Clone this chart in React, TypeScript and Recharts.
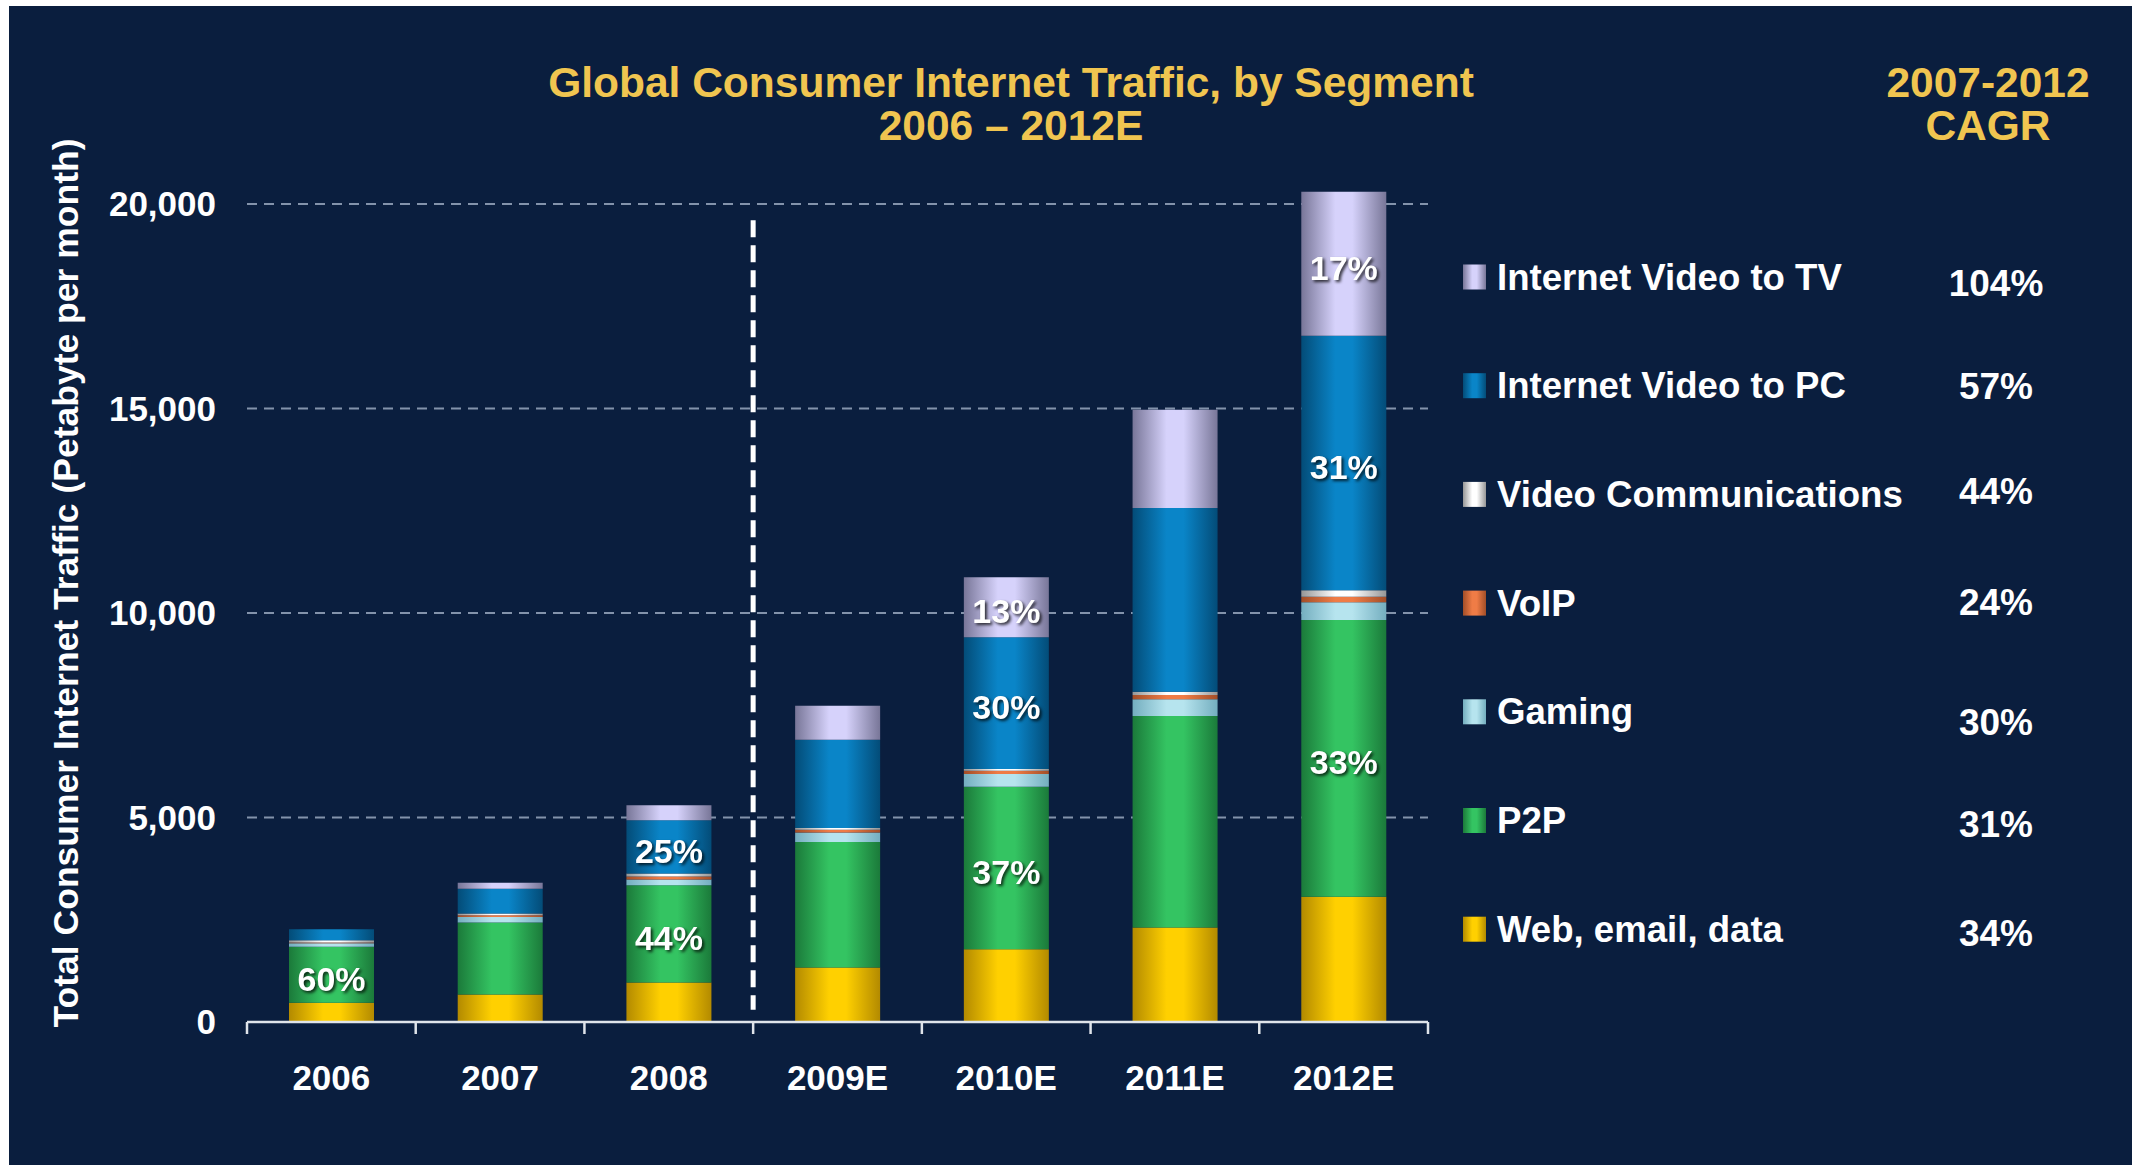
import React from "react";
import { BarChart, Bar, XAxis, YAxis, CartesianGrid, ReferenceLine, LabelList } from "recharts";

// ---------- data ----------
const years = ["2006", "2007", "2008", "2009E", "2010E", "2011E", "2012E"];
const web = [470, 670, 965, 1330, 1780, 2310, 3060];
const p2p = [1370, 1760, 2380, 3070, 3970, 5170, 6770];
const gaming = [85, 135, 140, 230, 310, 410, 430];
const voip = [20, 45, 75, 70, 80, 105, 135];
const videoComm = [55, 40, 70, 40, 45, 80, 160];
const videoPC = [265, 610, 1305, 2160, 3220, 4490, 6220];
const videoTV = [0, 145, 365, 830, 1470, 2400, 3520];

const p2pShare = ["60%", "", "44%", "", "37%", "", "33%"];
const pcShare = ["", "", "25%", "", "30%", "", "31%"];
const tvShare = ["", "", "", "", "13%", "", "17%"];

// stacking order, bottom to top
const seriesKeys = ["web", "p2p", "gaming", "voip", "videoComm", "videoPC", "videoTV"];
const seriesNames = [
  "Web, email, data",
  "P2P",
  "Gaming",
  "VoIP",
  "Video Communications",
  "Internet Video to PC",
  "Internet Video to TV",
];
const cagr = ["34%", "31%", "30%", "24%", "44%", "57%", "104%"];

const yTicks = [0, 5000, 10000, 15000, 20000];
const gridValues = [5000, 10000, 15000, 20000];
const forecastStart = "2009E";
const titleLines = ["Global Consumer Internet Traffic, by Segment", "2006 \u2013 2012E"];
const cagrHeader = ["2007-2012", "CAGR"];
const yAxisTitle = "Total Consumer Internet Traffic (Petabyte per month)";

const data = years.map((year, i) => ({
  year,
  web: web[i],
  p2p: p2p[i],
  gaming: gaming[i],
  voip: voip[i],
  videoComm: videoComm[i],
  videoPC: videoPC[i],
  videoTV: videoTV[i],
  p2pShare: p2pShare[i],
  pcShare: pcShare[i],
  tvShare: tvShare[i],
}));

// ---------- layout & styles ----------
const FONT = '"Liberation Sans", Arial, Helvetica, sans-serif';
const BG = "#0a1e3e";
const GOLD = "#f0c550";
const AXIS = "#dfe4ea";
const CHART_W = 2132;
const CHART_H = 1165;
const MARGIN = { top: 163, right: 704, bottom: 142, left: 147 };
const Y_MAX = 21000;
const PLOT_H = CHART_H - MARGIN.top - MARGIN.bottom - 1;
const TICK_PX = 12;
const tickDepth = (TICK_PX * Y_MAX) / PLOT_H; // tick length expressed in axis units
const SEP_TOP = 19600;
const SEP_BOTTOM = 300;
const LABEL_DY = 4;

const COLORS: Record<string, [string, string]> = {
  web: ["#b38a00", "#ffd000"],
  p2p: ["#1b7a3a", "#34c462"],
  gaming: ["#74aebf", "#b6e4ee"],
  voip: ["#a24e28", "#ef7c46"],
  videoComm: ["#969696", "#ffffff"],
  videoPC: ["#034c78", "#0a85c8"],
  videoTV: ["#787698", "#d6d2fb"],
};
const shareKey: Record<string, string> = { p2p: "p2pShare", videoPC: "pcShare", videoTV: "tvShare" };

const legendTop = 277;
const legendStep = 108.7;
const cagrY = [283, 386, 491, 602, 722, 824, 933];

function Gradients() {
  return (
    <defs>
      {seriesKeys.map((k) => (
        <linearGradient key={k} id={`grad-${k}`} x1="0" y1="0" x2="1" y2="0">
          <stop offset="0%" stopColor={COLORS[k][0]} />
          <stop offset="40%" stopColor={COLORS[k][1]} />
          <stop offset="60%" stopColor={COLORS[k][1]} />
          <stop offset="100%" stopColor={COLORS[k][0]} />
        </linearGradient>
      ))}
    </defs>
  );
}

function ShareLabel(p: any) {
  if (!p.value) return null;
  const vb = p.viewBox && p.viewBox.width != null ? p.viewBox : p;
  const cx = vb.x + vb.width / 2;
  const cy = vb.y + vb.height / 2 + LABEL_DY;
  return (
    <text
      x={cx}
      y={cy}
      textAnchor="middle"
      dominantBaseline="central"
      fill="#ffffff"
      fontSize={34}
      fontWeight={700}
      fontFamily={FONT}
      style={{ filter: "drop-shadow(2px 2px 1.5px rgba(0,0,0,0.75))" }}
    >
      {p.value}
    </text>
  );
}

export default function App() {
  const legendOrder = seriesKeys.map((k, i) => i).reverse();
  return (
    <div style={{ position: "fixed", left: 0, top: 0, width: CHART_W, height: CHART_H, background: "#ffffff", overflow: "hidden" }}>
      <div style={{ position: "absolute", left: 9, top: 6, width: CHART_W - 9, height: CHART_H - 6, background: BG }} />
      <div style={{ position: "absolute", left: 0, top: 0 }}>
        <BarChart width={CHART_W} height={CHART_H} data={data} margin={MARGIN} barSize={85}>
          <Gradients />
          <CartesianGrid
            vertical={false}
            horizontalValues={gridValues}
            stroke="#8393ab"
            strokeWidth={2}
            strokeDasharray="10 7"
          />
          <XAxis
            dataKey="year"
            height={1}
            axisLine={{ stroke: AXIS, strokeWidth: 2.5 }}
            tickLine={false}
            tickSize={0}
            tickMargin={43}
            interval={0}
            tick={{ fill: "#ffffff", fontSize: 35, fontWeight: 700, fontFamily: FONT }}
          />
          <YAxis
            width={100}
            domain={[0, Y_MAX]}
            ticks={yTicks}
            axisLine={false}
            tickLine={false}
            tickSize={0}
            tickMargin={31}
            tickFormatter={(v: number) => v.toLocaleString("en-US")}
            tick={{ fill: "#ffffff", fontSize: 35, fontWeight: 700, fontFamily: FONT }}
          />
          {seriesKeys.map((k, i) => (
            <Bar key={k} dataKey={k} name={seriesNames[i]} stackId="a" fill={`url(#grad-${k})`} isAnimationActive={false}>
              {shareKey[k] ? <LabelList dataKey={shareKey[k]} content={ShareLabel} /> : null}
            </Bar>
          ))}
          {years.map((yr) => (
            <ReferenceLine
              key={`tick-${yr}`}
              segment={[{ x: yr, y: 0 }, { x: yr, y: -tickDepth }]}
              position="start"
              ifOverflow="visible"
              stroke={AXIS}
              strokeWidth={2.5}
            />
          ))}
          <ReferenceLine
            segment={[{ x: years[years.length - 1], y: 0 }, { x: years[years.length - 1], y: -tickDepth }]}
            position="end"
            ifOverflow="visible"
            stroke={AXIS}
            strokeWidth={2.5}
          />
          <ReferenceLine
            segment={[{ x: forecastStart, y: SEP_TOP }, { x: forecastStart, y: SEP_BOTTOM }]}
            position="start"
            stroke="#ffffff"
            strokeWidth={5}
            strokeDasharray="17 8"
          />
        </BarChart>
      </div>
      <svg
        width={CHART_W}
        height={CHART_H}
        style={{ position: "absolute", left: 0, top: 0, pointerEvents: "none" }}
        fontFamily={FONT}
        fontWeight={700}
      >
        <text x={1011} y={97} textAnchor="middle" fontSize={42.5} fill={GOLD}>{titleLines[0]}</text>
        <text x={1011} y={140} textAnchor="middle" fontSize={42.5} fill={GOLD}>{titleLines[1]}</text>
        <text x={1988} y={97} textAnchor="middle" fontSize={42.5} fill={GOLD}>{cagrHeader[0]}</text>
        <text x={1988} y={140} textAnchor="middle" fontSize={42.5} fill={GOLD}>{cagrHeader[1]}</text>
        <text
          transform="translate(66,583) rotate(-90)"
          textAnchor="middle"
          dominantBaseline="central"
          fontSize={35.5}
          fill="#ffffff"
        >
          {yAxisTitle}
        </text>
        {legendOrder.map((si, row) => {
          const cy = legendTop + row * legendStep;
          const k = seriesKeys[si];
          return (
            <g key={k}>
              <rect x={1463} y={cy - 12.5} width={23} height={25} fill={`url(#grad-${k})`} />
              <text x={1497} y={cy} dominantBaseline="central" fontSize={36.6} fill="#ffffff">
                {seriesNames[si]}
              </text>
              <text x={1996} y={cagrY[row]} textAnchor="middle" dominantBaseline="central" fontSize={37} fill="#ffffff">
                {cagr[si]}
              </text>
            </g>
          );
        })}
      </svg>
    </div>
  );
}
